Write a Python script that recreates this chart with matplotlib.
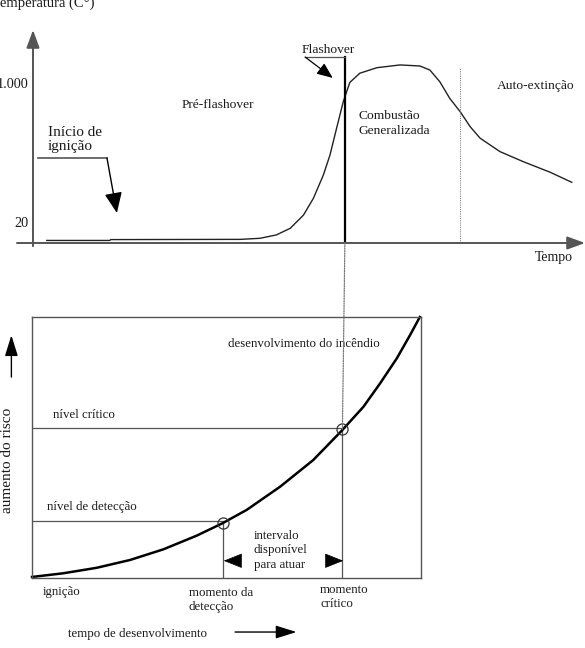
import matplotlib
matplotlib.use('Agg')
import matplotlib.pyplot as plt
from matplotlib.patches import ConnectionPatch

plt.rcParams['font.family'] = ['Liberation Serif', 'DejaVu Serif']
plt.rcParams['font.size'] = 9.7

# --- top panel: temperature curve (time 0-100, temperature in relative units 0-100)
temp_time = [2.5, 13.9, 14.1, 37.5, 41.1, 44.1, 46.6, 49.0, 50.8, 52.6, 53.8,
             55.0, 56.2, 57.4, 59.2, 62.3, 66.5, 70.1, 71.9, 73.7, 75.5, 77.4,
             79.2, 81.0, 84.6, 88.8, 93.7, 97.6]
temp_value = [1.2, 1.2, 1.6, 1.7, 2.2, 3.8, 6.9, 13.1, 21.0, 31.9, 41.3,
              53.9, 66.3, 75.4, 79.7, 82.3, 83.6, 83.1, 81.2, 75.7, 67.9, 61.6,
              54.6, 49.2, 42.9, 38.2, 33.2, 28.5]
temp_ticks = [9.9, 75.1]
temp_tick_labels = ['20', '1.000']
flashover_t = 56.5
extinction_t = 77.4

# --- bottom panel: risk curve (development time 0-100, risk 0-100)
risk_time = [0.0, 8.0, 16.6, 25.2, 33.8, 42.3, 49.0, 55.2, 63.8, 72.3, 79.6,
             85.2, 89.5, 93.8, 97.2, 99.7]
risk_value = [0.4, 1.8, 3.9, 6.9, 11.0, 16.2, 21.0, 26.1, 35.0, 45.2, 56.4,
              65.6, 74.6, 84.2, 93.1, 100.0]
detect_point = (49.0, 21.2)
critical_point = (79.8, 56.9)

W, H = 585, 648
fig = plt.figure(figsize=(W / 100, H / 100), dpi=100)
grey = '#555555'
txt = '#1a1a1a'

# ---------------- top panel
ax1 = fig.add_axes([33 / W, (H - 243) / H, 552 / W, 213 / H])
ax1.set_xlim(0, 100)
ax1.set_ylim(0, 100)
for s in ax1.spines.values():
    s.set_visible(False)
ax1.set_xticks([])
ax1.set_yticks(temp_ticks, temp_tick_labels)
ax1.tick_params(axis='y', length=0, pad=3, labelsize=10.3, labelcolor=txt)
ax1.patch.set_alpha(0)

arrow_kw = dict(arrowstyle='-|>,head_length=0.6,head_width=0.22', color=grey,
                lw=1.4, shrinkA=0, shrinkB=0, mutation_scale=18)
ax1.annotate('', xy=(0, 100), xytext=(0, -1.5), arrowprops=arrow_kw,
             annotation_clip=False)
ax1.annotate('', xy=(100, 0), xytext=(-2.9, 0), arrowprops=arrow_kw,
             annotation_clip=False)

ax1.plot(temp_time, temp_value, color='#222222', lw=1.0, clip_on=False)
ax1.plot([flashover_t, flashover_t], [0, 87.3], color='black', lw=1.6)
ax1.plot([extinction_t, extinction_t], [0, 82.2], color='#888888', lw=0.8,
         ls=(0, (1, 1)))

ax1.text(27.0, 64.8, 'Pré-flashover', ha='left', va='center', color=txt)
ax1.text(48.7, 90.6, 'Flashover', ha='left', va='center', color=txt)
ax1.plot([49.3, 56.5], [87.3, 87.3], color=grey, lw=0.9)
ax1.annotate('', xy=(54.3, 77.5), xytext=(49.3, 87.3),
             arrowprops=dict(arrowstyle='-|>,head_length=0.6,head_width=0.25',
                             color='black', lw=0.9, shrinkA=0, shrinkB=0,
                             mutation_scale=16))
ax1.text(58.9, 56.1, 'Combustão\nGeneralizada', ha='left', va='center',
         color=txt, linespacing=1.25)
ax1.text(84.0, 73.7, 'Auto-extinção', ha='left', va='center', color=txt)
ax1.text(90.9, -6.6, 'Tempo', ha='left', va='center', color=txt, fontsize=10)
ax1.text(2.7, 48.6, 'Início de\nignição', ha='left', va='center', color=txt,
         fontsize=11, linespacing=1.15)
ax1.plot([0.9, 13.4], [39.9, 39.9], color=grey, lw=1.2, clip_on=False)
ax1.annotate('', xy=(15.2, 14.1), xytext=(13.4, 39.9),
             arrowprops=dict(arrowstyle='-|>,head_length=0.7,head_width=0.3',
                             color='black', lw=1.0, shrinkA=0, shrinkB=0,
                             mutation_scale=18))

fig.text(-8 / W, 1 - 7 / H, 'Temperatura (C°)', ha='left', va='baseline',
         color=txt, fontsize=10.5)

# ---------------- bottom panel
ax2 = fig.add_axes([32 / W, (H - 578) / H, 389 / W, 261 / H])
ax2.set_xlim(0, 100)
ax2.set_ylim(0, 100)
ax2.set_xticks([])
ax2.set_yticks([])
for s in ax2.spines.values():
    s.set_color(grey)
    s.set_linewidth(1.0)
ax2.patch.set_alpha(0)

ax2.plot([0, detect_point[0]], [detect_point[1] + 0.5] * 2, color=grey, lw=0.9)
ax2.plot([0, critical_point[0]], [critical_point[1] + 0.4] * 2, color=grey, lw=0.9)
ax2.plot([detect_point[0]] * 2, [0, detect_point[1]], color=grey, lw=0.9)
ax2.plot([critical_point[0]] * 2, [0, critical_point[1]], color=grey, lw=0.9)
ax2.plot(risk_time, risk_value, color='black', lw=1.8, clip_on=False)
for px, py in (detect_point, critical_point):
    ax2.plot(px, py, marker='o', ms=8, mfc='none', mec='#333333', mew=0.9)

small = 9.3
ax2.text(50.5, 89.7, 'desenvolvimento do incêndio', ha='left', va='center',
         color=txt, fontsize=small)
ax2.text(5.4, 62.6, 'nível crítico', ha='left', va='center', color=txt,
         fontsize=small)
ax2.text(3.8, 27.2, 'nível de detecção', ha='left', va='center', color=txt,
         fontsize=small)
ax2.text(57.0, 10.6, 'intervalo\ndisponível\npara atuar', ha='left',
         va='center', color=txt, linespacing=1.3, fontsize=small)

head_kw = dict(arrowstyle='-|>,head_length=0.75,head_width=0.3', color='black',
               lw=0.5, shrinkA=0, shrinkB=0, mutation_scale=16)
ax2.annotate('', xy=(49.3, 6.6), xytext=(53.5, 6.6), arrowprops=head_kw)
ax2.annotate('', xy=(80.0, 6.6), xytext=(76.0, 6.6), arrowprops=head_kw)

ax2.text(2.8, -5.4, 'ignição', ha='left', va='center', color=txt, fontsize=small)
ax2.text(40.3, -8.4, 'momento da\ndetecção', ha='left', va='center', color=txt,
         linespacing=1.3, fontsize=small)
ax2.text(74.1, -7.3, 'momento\ncrítico', ha='left', va='center', color=txt,
         linespacing=1.3, fontsize=small)
ax2.text(9.2, -21.5, 'tempo de desenvolvimento', ha='left', va='center',
         color=txt, fontsize=small)
ax2.annotate('', xy=(68.0, -20.7), xytext=(52.2, -20.7),
             arrowprops=dict(arrowstyle='-|>,head_length=0.8,head_width=0.25',
                             color='black', lw=1.0, shrinkA=0, shrinkB=0,
                             mutation_scale=16), annotation_clip=False)

ax2.text(-6.3, 45.2, 'aumento do risco', ha='center', va='center', color=txt,
         rotation=90, fontsize=11)
ax2.annotate('', xy=(-5.3, 93.0), xytext=(-5.3, 77.0),
             arrowprops=dict(arrowstyle='-|>,head_length=0.8,head_width=0.25',
                             color='black', lw=1.0, shrinkA=0, shrinkB=0,
                             mutation_scale=16), annotation_clip=False)

# dotted guide from flashover down to critical point
con = ConnectionPatch(xyA=(flashover_t, 0), coordsA=ax1.transData,
                      xyB=critical_point, coordsB=ax2.transData,
                      color='#777777', lw=0.9, ls=(0, (1, 1)))
fig.add_artist(con)

fig.savefig('out.png', dpi=100)
